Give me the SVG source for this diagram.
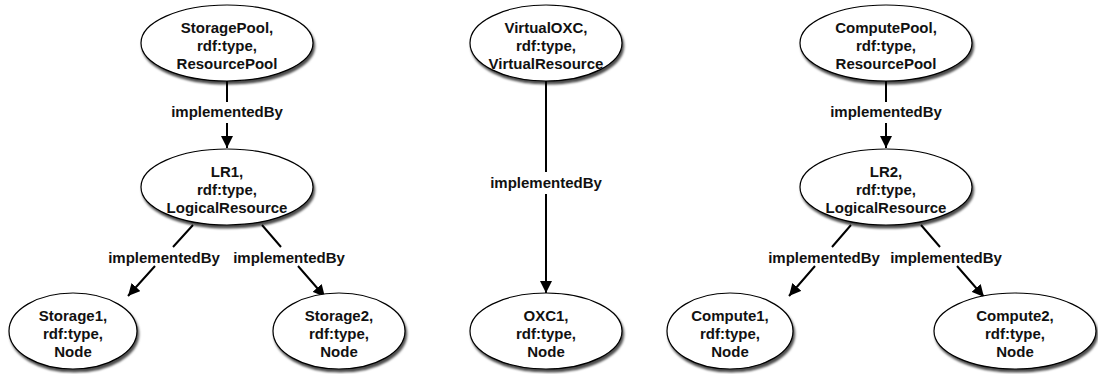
<svg xmlns="http://www.w3.org/2000/svg" width="1098" height="374" viewBox="0 0 1098 374">
<style>
.n ellipse{fill:#fff;stroke:#000;stroke-width:1.2;filter:url(#sh)}
.n text,.lbl{font-family:"Liberation Sans",Arial,Helvetica,sans-serif;font-weight:bold;font-size:15px;fill:#111;text-anchor:middle}
.e path{fill:none;stroke:#000;stroke-width:2;marker-end:url(#ah)}
</style>
<defs>
<filter id="sh" x="-20%" y="-20%" width="140%" height="150%">
<feDropShadow dx="1.5" dy="3" stdDeviation="1.2" flood-color="#000" flood-opacity="0.7"/>
</filter>
<marker id="ah" markerUnits="userSpaceOnUse" markerWidth="12" markerHeight="12" viewBox="0 0 12 12" refX="12" refY="6" orient="auto">
<path d="M0,0 L12,6 L0,12 z" fill="#000"/>
</marker>
</defs>
<g id="connectors" class="e">
<path d="M227,81 L227,102 M227,123 L227,148"/>
<path d="M193,225 L173,247 M155,266 L128,296"/>
<path d="M262,225 L281,247 M298,266 L325,297"/>
<path d="M546,81 L546,172 M546,194 L546,293"/>
<path d="M886,81 L886,102 M886,123 L886,148"/>
<path d="M851,225 L832,247 M815,266 L789,296"/>
<path d="M921,225 L940,247 M957,266 L984,297"/>
</g>
<g id="labels">
<text class="lbl" x="227" y="117">implementedBy</text>
<text class="lbl" x="164" y="263">implementedBy</text>
<text class="lbl" x="289" y="263">implementedBy</text>
<text class="lbl" x="546" y="188">implementedBy</text>
<text class="lbl" x="886" y="117">implementedBy</text>
<text class="lbl" x="824" y="263">implementedBy</text>
<text class="lbl" x="946" y="263">implementedBy</text>
</g>
<g id="StoragePool" class="n"><ellipse cx="227" cy="43" rx="86" ry="38"/><text x="227" y="33">StoragePool,</text><text x="227" y="51">rdf:type,</text><text x="227" y="69">ResourcePool</text></g>
<g id="LR1" class="n"><ellipse cx="227" cy="187" rx="86" ry="38"/><text x="227" y="177">LR1,</text><text x="227" y="195">rdf:type,</text><text x="227" y="213">LogicalResource</text></g>
<g id="Storage1" class="n"><ellipse cx="73" cy="331" rx="64" ry="38"/><text x="73" y="321">Storage1,</text><text x="73" y="339">rdf:type,</text><text x="73" y="357">Node</text></g>
<g id="Storage2" class="n"><ellipse cx="339" cy="331" rx="66" ry="38"/><text x="339" y="321">Storage2,</text><text x="339" y="339">rdf:type,</text><text x="339" y="357">Node</text></g>
<g id="VirtualOXC" class="n"><ellipse cx="546" cy="43" rx="76" ry="38"/><text x="546" y="33">VirtualOXC,</text><text x="546" y="51">rdf:type,</text><text x="546" y="69">VirtualResource</text></g>
<g id="OXC1" class="n"><ellipse cx="546" cy="331" rx="76" ry="38"/><text x="546" y="321">OXC1,</text><text x="546" y="339">rdf:type,</text><text x="546" y="357">Node</text></g>
<g id="ComputePool" class="n"><ellipse cx="886" cy="43" rx="86" ry="38"/><text x="886" y="33">ComputePool,</text><text x="886" y="51">rdf:type,</text><text x="886" y="69">ResourcePool</text></g>
<g id="LR2" class="n"><ellipse cx="886" cy="187" rx="86" ry="38"/><text x="886" y="177">LR2,</text><text x="886" y="195">rdf:type,</text><text x="886" y="213">LogicalResource</text></g>
<g id="Compute1" class="n"><ellipse cx="730" cy="331" rx="63" ry="38"/><text x="730" y="321">Compute1,</text><text x="730" y="339">rdf:type,</text><text x="730" y="357">Node</text></g>
<g id="Compute2" class="n"><ellipse cx="1015" cy="331" rx="81" ry="38"/><text x="1015" y="321">Compute2,</text><text x="1015" y="339">rdf:type,</text><text x="1015" y="357">Node</text></g>
</svg>
